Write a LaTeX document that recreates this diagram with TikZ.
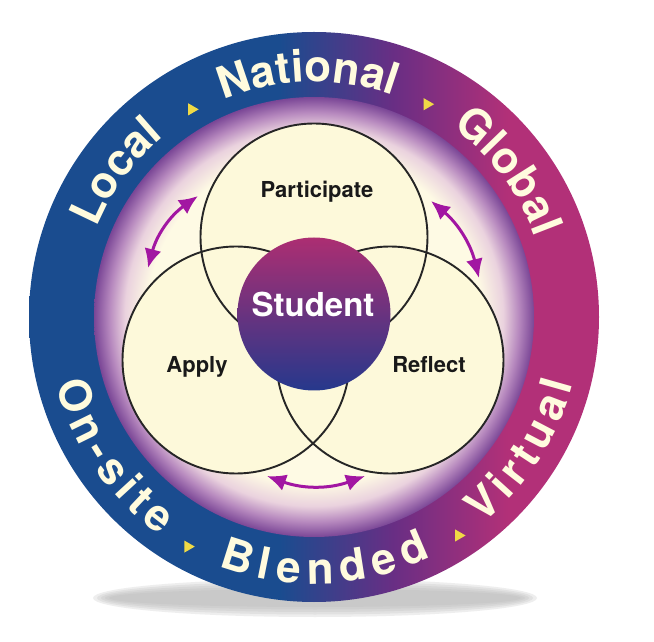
\documentclass[tikz,border=0pt]{standalone}
\usepackage{fontspec}
\setmainfont{TeX Gyre Heros}
\usetikzlibrary{calc,decorations.text,arrows.meta,shapes.geometric}

\definecolor{ringblue}{RGB}{26,76,143}
\definecolor{ringpurple}{RGB}{105,46,132}
\definecolor{ringmagenta}{RGB}{178,48,120}
\definecolor{glowcream}{RGB}{254,250,228}
\definecolor{glowpink}{RGB}{234,210,222}
\definecolor{glowlav}{RGB}{182,136,190}
\definecolor{glowpurple}{RGB}{122,70,150}
\definecolor{venncream}{RGB}{253,249,218}
\definecolor{studtop}{RGB}{172,46,114}
\definecolor{studbottom}{RGB}{38,56,140}
\definecolor{swingpurple}{RGB}{162,22,162}
\definecolor{ringtext}{RGB}{255,251,222}
\definecolor{dotyellow}{RGB}{240,218,70}
\definecolor{shadowgray}{RGB}{185,185,185}

\pgfdeclarehorizontalshading{ringshade}{100bp}{color(0bp)=(ringblue); color(47bp)=(ringblue);
  color(57bp)=(ringpurple); color(67bp)=(ringmagenta); color(100bp)=(ringmagenta)}
\pgfdeclareradialshading{glowshade}{\pgfpoint{0bp}{0bp}}{color(0bp)=(glowcream); color(19bp)=(glowcream);
  color(21.5bp)=(glowpink); color(23.3bp)=(glowlav); color(25bp)=(glowpurple); color(50bp)=(glowpurple)}

\newcommand\ringfont{\fontsize{44}{44}\selectfont\bfseries\color{ringtext}}

\begin{document}
\begin{tikzpicture}[x=1pt,y=1pt,
  venn/.style={circle,draw=black!85,line width=1.9pt,minimum size=227pt,inner sep=0pt},
  lbl/.style={font=\fontsize{22}{22}\selectfont\bfseries,text=black!90,anchor=base,inner sep=0pt},
  ringword/.style={decorate,decoration={text along path,text align={fit to path},text={|\ringfont|#1}}},
  divider/.style={regular polygon,regular polygon sides=3,shape border rotate=-90,
    fill=dotyellow,inner sep=0pt,minimum size=14pt},
  swing/.style={draw=swingpurple,line width=3pt,<->,>={Latex[length=19pt,width=17pt]}}]
\useasboundingbox (0,0) rectangle (654,641);
\fill[white] (0,0) rectangle (654,641);
\coordinate (ctr) at (314,324);

% shadow
\foreach \k in {0,...,4}
  \fill[shadowgray,opacity=0.24] (315,43) ellipse [x radius=222-4*\k, y radius=19-2.5*\k];

% ring and glow
\shade[shading=ringshade] (ctr) circle[radius=285];
\shade[shading=glowshade] (ctr) circle[radius=220];

% ring words
\path[ringword=Local] (ctr) ++(157.7:235) arc[start angle=157.7, end angle=129.7, radius=235];
\path[ringword=National] (ctr) ++(112.6:235) arc[start angle=112.6, end angle=70.4, radius=235];
\path[ringword=Global] (ctr) ++(54.1:235) arc[start angle=54.1, end angle=19.7, radius=235];
\path[ringword=On-site] (ctr) ++(194.7:267) arc[start angle=194.7, end angle=234.7, radius=267];
\path[ringword=Blended] (ctr) ++(249:267) arc[start angle=249, end angle=296, radius=267];
\path[ringword=Virtual] (ctr) ++(309:267) arc[start angle=309, end angle=345.5, radius=267];

\node[divider] (m1) at ($(ctr)+(120.5:241)$) {};
\node[divider] (m2) at ($(ctr)+(62:241)$) {};
\node[divider] (m3) at ($(ctr)+(241.2:262)$) {};
\node[divider] (m4) at ($(ctr)+(303.5:262)$) {};

% venn circles
\coordinate (pc) at (314,404);
\coordinate (ac) at (236,281);
\coordinate (rc) at (390,281);
\foreach \c in {pc,ac,rc}
  \fill[venncream] (\c) circle[radius=113.5];
\node[venn] (part) at (pc) {};
\node[venn] (appl) at (ac) {};
\node[venn] (refl) at (rc) {};

\node[circle,inner sep=0pt,minimum size=153pt,top color=studtop,bottom color=studbottom] (stu) at (314,327) {};
\node[font=\fontsize{33}{33}\selectfont\bfseries,text=white,anchor=base,inner sep=0pt] (stutxt) at (313,324) {Student};

\node[lbl] (partl) at (317,443) {Participate};
\node[lbl] (appll) at (197,268) {Apply};
\node[lbl] (refll) at (429,268) {Reflect};

% arrows
\coordinate (aL1) at (148,373);
\coordinate (aL2) at (198,445);
\coordinate (aR1) at (431,440);
\coordinate (aR2) at (479,363);
\coordinate (aB1) at (267,165);
\coordinate (aB2) at (365,165);
\draw[swing] (aL1) to[bend left=20] (aL2);
\draw[swing] (aR1) to[bend left=18] (aR2);
\draw[swing] (aB1) to[bend right=20] (aB2);
\end{tikzpicture}
\end{document}
